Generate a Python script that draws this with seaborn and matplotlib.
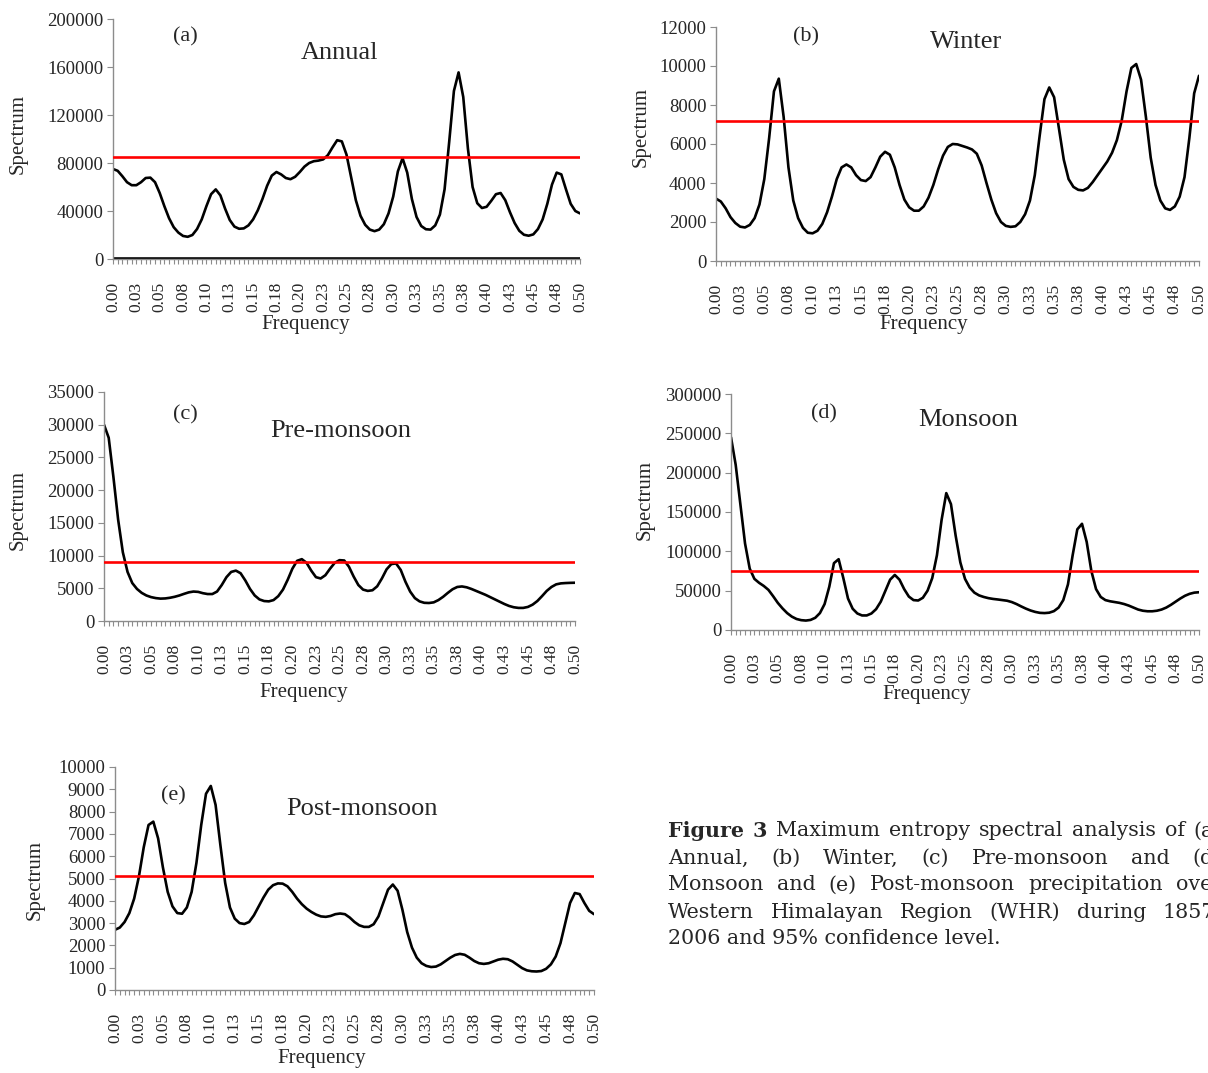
import numpy as np
import matplotlib
matplotlib.use("Agg")
import matplotlib.pyplot as plt
import seaborn as sns
from matplotlib.ticker import MultipleLocator

# --- data (frequency step 0.005) ---
freq = np.linspace(0, 0.5, 101)

tick_freqs = [0.0, 0.025, 0.05, 0.075, 0.1, 0.125, 0.15, 0.175, 0.2, 0.225, 0.25,
              0.275, 0.3, 0.325, 0.35, 0.375, 0.4, 0.425, 0.45, 0.475, 0.5]
tick_labels = ["0.00", "0.03", "0.05", "0.08", "0.10", "0.13", "0.15", "0.18", "0.20",
               "0.23", "0.25", "0.28", "0.30", "0.33", "0.35", "0.38", "0.40", "0.43",
               "0.45", "0.48", "0.50"]

annual = [75000, 73500, 69000, 64000, 61500, 61500, 64000, 67500, 67800, 64000,
          55000, 44000, 34000, 26500, 22000, 19200, 18500, 20000, 25000, 33000,
          44000, 54000, 58000, 53000, 42000, 32500, 27000, 25200, 25500, 28000,
          33000, 40500, 50000, 61000, 69500, 72500, 70500, 67500, 66500, 68500,
          72500, 77000, 80000, 81500, 82000, 83000, 86500, 93000, 99000, 98000,
          87000, 68000, 49000, 36000, 28500, 24500, 23200, 24500, 29000, 38000,
          52000, 73000, 84000, 72000, 50000, 35000, 27500, 24800, 24500, 28000,
          37000, 58000, 98000, 140000, 155500, 135000, 92000, 60000, 46500, 42500,
          43500, 48500, 54000, 55000, 49000, 39000, 30000, 23500, 20200, 19400,
          20500, 25000, 33000, 46000, 62000, 72000, 70500, 58000, 46000, 40000,
          38000]
annual_zero = [0] * 101

winter = [3200, 3050, 2700, 2250, 1950, 1760, 1720, 1850, 2200, 2900,
          4200, 6300, 8700, 9350, 7400, 4800, 3100, 2200, 1700, 1450,
          1420, 1550, 1900, 2500, 3300, 4200, 4800, 4950, 4800, 4400,
          4150, 4100, 4300, 4800, 5350, 5600, 5450, 4800, 3900, 3150,
          2750, 2580, 2580, 2800, 3250, 3900, 4700, 5400, 5850, 6000,
          5980, 5900, 5820, 5720, 5500, 4900, 4000, 3150, 2450, 2000,
          1800, 1750, 1780, 2000, 2400, 3100, 4400, 6400, 8300, 8900,
          8400, 6800, 5200, 4200, 3800, 3650, 3620, 3750, 4050, 4400,
          4750, 5100, 5550, 6200, 7200, 8700, 9900, 10100, 9300, 7400,
          5300, 3900, 3100, 2700, 2620, 2800, 3300, 4300, 6300, 8600,
          9500]

pre_monsoon = [30000, 28000, 22000, 15500, 10500, 7500, 5800, 4900, 4300, 3900,
               3650, 3500, 3420, 3450, 3550, 3700, 3900, 4150, 4380, 4500,
               4450, 4250, 4120, 4120, 4500, 5500, 6700, 7500, 7700, 7300,
               6200, 4900, 3900, 3300, 3050, 3000, 3200, 3800, 4800, 6300,
               8000, 9200, 9450, 8900, 7700, 6700, 6500, 7000, 8000, 8900,
               9300, 9250, 8300, 6800, 5500, 4800, 4600, 4700, 5300, 6500,
               7900, 8700, 8800, 7800, 6000, 4500, 3500, 3000, 2780, 2750,
               2850, 3200, 3700, 4300, 4850, 5200, 5280, 5150, 4900, 4600,
               4300, 4000, 3650, 3300, 2950, 2600, 2300, 2100, 2000, 2000,
               2150, 2500, 3050, 3800, 4600, 5200, 5600, 5750, 5800, 5830,
               5850]

monsoon = [245000, 210000, 160000, 110000, 78000, 65000, 60000, 56000, 51000, 43000,
           34500, 27500, 21500, 17000, 14000, 12500, 12000, 12800, 15500, 21500,
           33000, 55000, 85000, 90000, 66000, 40000, 27000, 21000, 18500, 18500,
           21000, 26500, 36000, 50000, 64000, 70000, 64000, 52000, 42500, 38000,
           37500, 41000, 50000, 66000, 95000, 140000, 174000, 160000, 120000, 86000,
           65000, 54000, 47500, 44000, 42000, 40500, 39500, 38800, 38000, 37200,
           35500, 33000, 30000, 27200, 24800, 23000, 21800, 21500, 22000, 24000,
           28500, 38000, 58000, 95000, 128000, 135000, 112000, 75000, 52000, 42000,
           38000, 36500, 35500, 34500, 33000, 31000, 28500, 26000, 24500, 23800,
           23800, 24500, 26000, 28500, 32000, 36000, 40000, 43500, 46000, 47500,
           48000]

post_monsoon = [2700, 2800, 3050, 3450, 4100, 5100, 6400, 7400, 7550, 6800,
                5500, 4400, 3750, 3450, 3420, 3700, 4400, 5700, 7400, 8800,
                9150, 8300, 6500, 4800, 3700, 3200, 3000, 2960, 3050, 3350,
                3750, 4150, 4500, 4700, 4780, 4770, 4650, 4400, 4100, 3850,
                3650, 3500, 3380, 3300, 3280, 3320, 3400, 3430, 3400, 3250,
                3050, 2900, 2830, 2830, 2950, 3300, 3900, 4500, 4730, 4450,
                3600, 2600, 1900, 1450, 1200, 1080, 1030, 1050, 1150, 1300,
                1450, 1570, 1620, 1580, 1450, 1300, 1200, 1170, 1200, 1280,
                1360, 1400, 1380, 1280, 1130, 980, 880, 840, 830, 850,
                950, 1150, 1500, 2100, 3000, 3900, 4350, 4300, 3900, 3550,
                3400]

# 95% confidence levels
limits = [85000, 7200, 9000, 75000, 5100]
letters = ["(a)", "(b)", "(c)", "(d)", "(e)"]
titles = ["Annual", "Winter", "Pre-monsoon", "Monsoon", "Post-monsoon"]
series = [annual, winter, pre_monsoon, monsoon, post_monsoon]
y_max = [200000, 12000, 35000, 300000, 10000]
y_step = [40000, 2000, 5000, 50000, 1000]

# --- layout (pixels in a 1208 x 1073 canvas) ---
W, H = 1208, 1073
boxes = [(113, 580, 19, 259), (716, 1199, 27, 261), (104, 575, 392, 621),
         (731, 1199, 394, 630), (115, 594, 767, 990)]
letter_pos = [(185, 37), (806, 37), (185, 415), (824, 414), (173, 796)]
title_pos = [(339, 53), (966, 42), (341, 431), (968, 420), (362, 809)]
ylabel_pos = [(18, 134), (641, 127), (18, 510), (645, 500), (35, 880)]
xlabel_pos = [(306, 325), (924, 325), (304, 692), (927, 695), (322, 1058)]

sns.set_style("white")
plt.rcParams["font.family"] = ["Liberation Serif", "DejaVu Serif"]

fig = plt.figure(figsize=(W / 100, H / 100), dpi=100)
grey = "#8c8c8c"

for i, vals in enumerate(series):
    l, r, t, b = boxes[i]
    ax = fig.add_axes([l / W, 1 - b / H, (r - l) / W, (b - t) / H])
    sns.lineplot(x=freq, y=vals, ax=ax, color="black", lw=1.9)
    ax.axhline(limits[i], color="#ff0000", lw=1.9, zorder=3)
    if i == 0:
        sns.lineplot(x=freq, y=annual_zero, ax=ax, color="black", lw=2.6)
    ax.set_xlim(0, 0.5)
    ax.set_ylim(0, y_max[i])
    ax.set_yticks(np.arange(0, y_max[i] + 1, y_step[i]))
    ax.set_yticklabels([f"{v:d}" for v in np.arange(0, y_max[i] + 1, y_step[i])],
                       fontsize=13.5)
    ax.set_xticks(tick_freqs)
    ax.set_xticklabels(tick_labels, rotation=90, fontsize=12.5)
    ax.xaxis.set_minor_locator(MultipleLocator(0.005))
    ax.tick_params(axis="x", which="both", direction="out", length=3.5, width=0.8,
                   color=grey, pad=13, bottom=True)
    ax.tick_params(axis="y", direction="out", length=4, width=0.8, color=grey,
                   pad=3, left=True)
    for s in ["top", "right"]:
        ax.spines[s].set_visible(False)
    for s in ["left", "bottom"]:
        ax.spines[s].set_color(grey)
        ax.spines[s].set_linewidth(1.0)
    ax.set_xlabel("Frequency", fontsize=15, va="center")
    ax.set_ylabel("Spectrum", fontsize=15, va="center")
    ax.xaxis.set_label_coords((xlabel_pos[i][0] - l) / (r - l),
                              (b - xlabel_pos[i][1]) / (b - t))
    ax.yaxis.set_label_coords((ylabel_pos[i][0] - l) / (r - l),
                              (b - ylabel_pos[i][1]) / (b - t))
    ax.patch.set_alpha(0)

    fig.text(letter_pos[i][0] / W, 1 - letter_pos[i][1] / H, letters[i],
             fontsize=16, ha="center", va="center")
    fig.text(title_pos[i][0] / W, 1 - title_pos[i][1] / H, titles[i],
             fontsize=19, ha="center", va="center")

# --- caption, justified lines ---
caption_lines = [
    [("Figure", True), ("3", True), ("Maximum", False), ("entropy", False),
     ("spectral", False), ("analysis", False), ("of", False), ("(a)", False)],
    [("Annual,", False), ("(b)", False), ("Winter,", False), ("(c)", False),
     ("Pre-monsoon", False), ("and", False), ("(d)", False)],
    [("Monsoon", False), ("and", False), ("(e)", False), ("Post-monsoon", False),
     ("precipitation", False), ("over", False)],
    [("Western", False), ("Himalayan", False), ("Region", False), ("(WHR)", False),
     ("during", False), ("1857-", False)],
]
last_line = "2006 and 95% confidence level."
cap_x0, cap_x1 = 668, 1222
cap_y = [831, 858, 885, 912, 939]
cap_font = "DejaVu Serif"
cap_fs = 14.9

fig.canvas.draw()
renderer = fig.canvas.get_renderer()
for li, words in enumerate(caption_lines):
    objs = []
    for w, bold in words:
        objs.append(fig.text(0, 1 - cap_y[li] / H, w, fontsize=cap_fs, family=cap_font,
                             weight="bold" if bold else "normal", va="center", ha="left"))
    widths = [o.get_window_extent(renderer).width for o in objs]
    gap = (cap_x1 - cap_x0 - sum(widths)) / (len(objs) - 1)
    x = cap_x0
    for o, w in zip(objs, widths):
        o.set_x(x / W)
        x += w + gap
fig.text(cap_x0 / W, 1 - cap_y[4] / H, last_line, fontsize=cap_fs, family=cap_font,
         va="center", ha="left")

fig.savefig("out.png", dpi=100)
